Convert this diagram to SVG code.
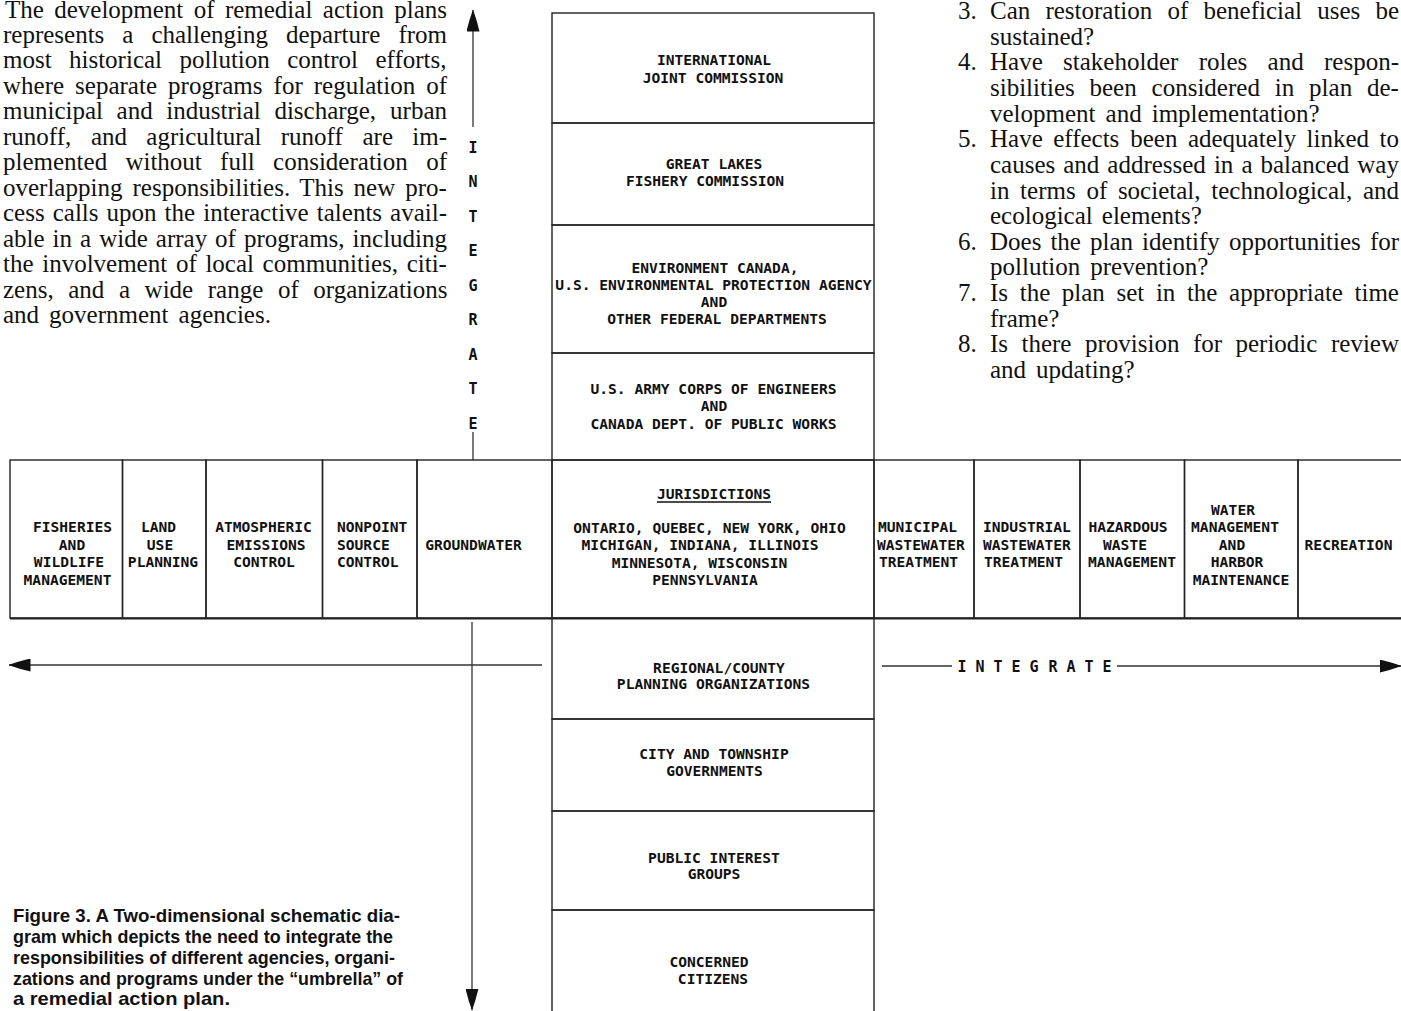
<svg xmlns="http://www.w3.org/2000/svg" width="1401" height="1011" viewBox="0 0 1401 1011">
<style>
.bg{fill:#fff}
.box{fill:none;stroke:#222;stroke-width:1.4}
.lbl{font-family:"DejaVu Sans Mono","Liberation Mono",monospace;font-weight:bold;font-size:14.6px;fill:#111;text-anchor:middle}
.lbll{font-family:"DejaVu Sans Mono","Liberation Mono",monospace;font-weight:bold;font-size:14.6px;fill:#111}
.body{font-family:"Liberation Serif","Times New Roman",serif;font-size:25px;fill:#111}
.cap{font-family:"Liberation Sans",Arial,sans-serif;font-weight:bold;font-size:19px;fill:#111}
.conn{stroke:#333;stroke-width:1.3;fill:none}
.ax{font-family:"DejaVu Sans Mono","Liberation Mono",monospace;font-weight:bold;font-size:15px;fill:#111;text-anchor:middle}
</style>
<defs>
<marker id="ah" markerUnits="userSpaceOnUse" markerWidth="22" markerHeight="13" viewBox="0 0 22 13" refX="21.5" refY="6.5" orient="auto">
<path d="M0,0 Q11,2.5 22,6.5 Q11,10.5 0,13 Z" fill="#111"/>
</marker>
</defs>
<rect class="bg" x="0" y="0" width="1401" height="1011"/>

<g id="text-left" class="body">
<text y="17.5"><tspan x="5">The</tspan> <tspan x="54.2">development</tspan> <tspan x="193.8">of</tspan> <tspan x="224.9">remedial</tspan> <tspan x="322.8">action</tspan> <tspan x="394.2">plans</tspan></text>
<text y="42.5"><tspan x="3">represents</tspan> <tspan x="122.3">a</tspan> <tspan x="151.4">challenging</tspan> <tspan x="286">departure</tspan> <tspan x="398.4">from</tspan></text>
<text y="68"><tspan x="3">most</tspan> <tspan x="69">historical</tspan> <tspan x="179.5">pollution</tspan> <tspan x="287.2">control</tspan> <tspan x="375.5">efforts,</tspan></text>
<text y="93.5"><tspan x="3">where</tspan> <tspan x="75.1">separate</tspan> <tspan x="168.1">programs</tspan> <tspan x="273.6">for</tspan> <tspan x="313.8">regulation</tspan> <tspan x="426.2">of</tspan></text>
<text y="119"><tspan x="3">municipal</tspan> <tspan x="116.6">and</tspan> <tspan x="166.3">industrial</tspan> <tspan x="274.4">discharge,</tspan> <tspan x="390.1">urban</tspan></text>
<text y="144.5"><tspan x="3">runoff,</tspan> <tspan x="91">and</tspan> <tspan x="146.3">agricultural</tspan> <tspan x="280.8">runoff</tspan> <tspan x="362.5">are</tspan> <tspan x="412.3">im-</tspan></text>
<text y="170"><tspan x="3">plemented</tspan> <tspan x="125.4">without</tspan> <tspan x="220.1">full</tspan> <tspan x="273.1">consideration</tspan> <tspan x="426.2">of</tspan></text>
<text y="195.5"><tspan x="3">overlapping</tspan> <tspan x="132.5">responsibilities.</tspan> <tspan x="299.2">This</tspan> <tspan x="353.6">new</tspan> <tspan x="405.3">pro-</tspan></text>
<text y="221"><tspan x="3">cess</tspan> <tspan x="52.7">calls</tspan> <tspan x="106.6">upon</tspan> <tspan x="164.6">the</tspan> <tspan x="203.2">interactive</tspan> <tspan x="316.8">talents</tspan> <tspan x="390.1">avail-</tspan></text>
<text y="246.5"><tspan x="3">able</tspan> <tspan x="52.6">in</tspan> <tspan x="80.1">a</tspan> <tspan x="99.2">wide</tspan> <tspan x="155.8">array</tspan> <tspan x="215.1">of</tspan> <tspan x="243.9">programs,</tspan> <tspan x="352.6">including</tspan></text>
<text y="272"><tspan x="3">the</tspan> <tspan x="42.2">involvement</tspan> <tspan x="175.9">of</tspan> <tspan x="205.4">local</tspan> <tspan x="262.6">communities,</tspan> <tspan x="406.7">citi-</tspan></text>
<text y="297.5"><tspan x="3">zens,</tspan> <tspan x="68.2">and</tspan> <tspan x="118.9">a</tspan> <tspan x="144.6">wide</tspan> <tspan x="207.8">range</tspan> <tspan x="277.9">of</tspan> <tspan x="313.3">organizations</tspan></text>
<text y="323"><tspan x="3">and</tspan> <tspan x="49.1">government</tspan> <tspan x="178.6">agencies.</tspan></text>
</g>

<g id="text-right" class="body">
<text x="958" y="19">3.</text>
<text y="19"><tspan x="990">Can</tspan> <tspan x="1045.4">restoration</tspan> <tspan x="1167.5">of</tspan> <tspan x="1203.5">beneficial</tspan> <tspan x="1317.2">uses</tspan> <tspan x="1375.4">be</tspan></text>
<text x="990" y="44.6">sustained?</text>
<text x="958" y="70.3">4.</text>
<text y="70.3"><tspan x="990">Have</tspan> <tspan x="1063.1">stakeholder</tspan> <tspan x="1198.7">roles</tspan> <tspan x="1267.6">and</tspan> <tspan x="1324">respon-</tspan></text>
<text y="95.9"><tspan x="990">sibilities</tspan> <tspan x="1089.5">been</tspan> <tspan x="1151.6">considered</tspan> <tspan x="1274.8">in</tspan> <tspan x="1309.1">plan</tspan> <tspan x="1367">de-</tspan></text>
<text y="121.6"><tspan x="990">velopment</tspan> <tspan x="1105.6">and</tspan> <tspan x="1151.7">implementation?</tspan></text>
<text x="958" y="147.2">5.</text>
<text y="147.2"><tspan x="990">Have</tspan> <tspan x="1053.2">effects</tspan> <tspan x="1130.2">been</tspan> <tspan x="1187.9">adequately</tspan> <tspan x="1306.6">linked</tspan> <tspan x="1379.5">to</tspan></text>
<text y="172.8"><tspan x="990">causes</tspan> <tspan x="1063.2">and</tspan> <tspan x="1107.3">addressed</tspan> <tspan x="1213.9">in</tspan> <tspan x="1241.4">a</tspan> <tspan x="1260.5">balanced</tspan> <tspan x="1357.3">way</tspan></text>
<text y="198.5"><tspan x="990">in</tspan> <tspan x="1020.1">terms</tspan> <tspan x="1086.4">of</tspan> <tspan x="1117.9">societal,</tspan> <tspan x="1211.3">technological,</tspan> <tspan x="1362.9">and</tspan></text>
<text y="224.1"><tspan x="990">ecological</tspan> <tspan x="1101.8">elements?</tspan></text>
<text x="958" y="249.8">6.</text>
<text y="249.8"><tspan x="990">Does</tspan> <tspan x="1050.4">the</tspan> <tspan x="1090">plan</tspan> <tspan x="1142.1">identify</tspan> <tspan x="1228.9">opportunities</tspan> <tspan x="1369.9">for</tspan></text>
<text y="275.4"><tspan x="990">pollution</tspan> <tspan x="1090.3">prevention?</tspan></text>
<text x="958" y="301">7.</text>
<text y="301"><tspan x="990">Is</tspan> <tspan x="1019.7">the</tspan> <tspan x="1061.8">plan</tspan> <tspan x="1116.5">set</tspan> <tspan x="1155.9">in</tspan> <tspan x="1186.9">the</tspan> <tspan x="1229.1">appropriate</tspan> <tspan x="1354.5">time</tspan></text>
<text x="990" y="326.7">frame?</text>
<text x="958" y="352.3">8.</text>
<text y="352.3"><tspan x="990">Is</tspan> <tspan x="1021.5">there</tspan> <tspan x="1085">provision</tspan> <tspan x="1192.9">for</tspan> <tspan x="1235.5">periodic</tspan> <tspan x="1331">review</tspan></text>
<text y="378"><tspan x="990">and</tspan> <tspan x="1036.1">updating?</tspan></text>
</g>

<g id="caption" class="cap">
<text x="13" y="922" textLength="387" lengthAdjust="spacingAndGlyphs">Figure 3.  A Two-dimensional schematic dia-</text>
<text x="13" y="943" textLength="380" lengthAdjust="spacingAndGlyphs">gram which depicts the need to integrate the</text>
<text x="13" y="964" textLength="382" lengthAdjust="spacingAndGlyphs">responsibilities of different agencies, organi-</text>
<text x="13" y="984.5" textLength="390" lengthAdjust="spacingAndGlyphs">zations and programs under the “umbrella” of</text>
<text x="13" y="1005" textLength="217" lengthAdjust="spacingAndGlyphs">a remedial action plan.</text>
</g>

<g id="connectors">
<line class="conn" x1="473" y1="127" x2="473" y2="10" marker-end="url(#ah)"/>
<line class="conn" x1="473" y1="432" x2="473" y2="460"/>
<line class="conn" x1="472" y1="622" x2="472" y2="1010" marker-end="url(#ah)"/>
<line class="conn" x1="542" y1="665" x2="9" y2="665" marker-end="url(#ah)"/>
<line class="conn" x1="882" y1="666" x2="952" y2="666"/>
<line class="conn" x1="1117" y1="666" x2="1401" y2="666" marker-end="url(#ah)"/>
<g class="ax">
<text x="473" y="152.5">I</text><text x="473" y="186.5">N</text><text x="473" y="221.5">T</text><text x="473" y="255.5">E</text><text x="473" y="290.5">G</text><text x="473" y="324.5">R</text><text x="473" y="359.5">A</text><text x="473" y="393.5">T</text><text x="473" y="428.5">E</text>
<text x="962 980 998 1016 1034 1053 1071 1089 1107" y="671.5">INTEGRATE</text>
</g>
</g>

<g id="n-ijc"><rect class="box" x="552" y="13" width="322" height="110"/>
<text class="lbl" x="714" y="64.5">INTERNATIONAL</text><text class="lbl" x="713" y="82.5">JOINT COMMISSION</text></g>
<g id="n-glfc"><rect class="box" x="552" y="123" width="322" height="102"/>
<text class="lbl" x="714" y="168.5">GREAT LAKES</text><text class="lbl" x="705" y="185.5">FISHERY COMMISSION</text></g>
<g id="n-federal"><rect class="box" x="552" y="225" width="322" height="128"/>
<text class="lbl" x="715" y="272.5">ENVIRONMENT CANADA,</text><text class="lbl" x="713.5" y="289.5">U.S. ENVIRONMENTAL PROTECTION AGENCY</text><text class="lbl" x="714" y="306.5">AND</text><text class="lbl" x="717" y="323.5">OTHER FEDERAL DEPARTMENTS</text></g>
<g id="n-corps"><rect class="box" x="552" y="353" width="322" height="107"/>
<text class="lbl" x="713.5" y="393.5">U.S. ARMY CORPS OF ENGINEERS</text><text class="lbl" x="714" y="410.5">AND</text><text class="lbl" x="713.5" y="428.5">CANADA DEPT. OF PUBLIC WORKS</text></g>
<g id="n-jurisdictions"><rect class="box" x="552" y="460" width="322" height="158"/>
<text class="lbl" x="714" y="498.5">JURISDICTIONS</text><line x1="657" y1="502" x2="771" y2="502" stroke="#111" stroke-width="1.3"/>
<text class="lbl" x="709.5" y="532.5">ONTARIO, QUEBEC, NEW YORK, OHIO</text><text class="lbl" x="700" y="549.5">MICHIGAN, INDIANA, ILLINOIS</text><text class="lbl" x="699.5" y="567.5">MINNESOTA, WISCONSIN</text><text class="lbl" x="705" y="584.5">PENNSYLVANIA</text></g>
<g id="n-regional"><rect class="box" x="552" y="618" width="322" height="101"/>
<text class="lbl" x="719" y="672.5">REGIONAL/COUNTY</text><text class="lbl" x="713.5" y="688.5">PLANNING ORGANIZATIONS</text></g>
<g id="n-city"><rect class="box" x="552" y="719" width="322" height="92"/>
<text class="lbl" x="714" y="758.5">CITY AND TOWNSHIP</text><text class="lbl" x="714.5" y="775.5">GOVERNMENTS</text></g>
<g id="n-public"><rect class="box" x="552" y="811" width="322" height="99"/>
<text class="lbl" x="714" y="862.5">PUBLIC INTEREST</text><text class="lbl" x="714" y="878.5">GROUPS</text></g>
<g id="n-citizens"><rect class="box" x="552" y="910" width="322" height="110"/>
<text class="lbl" x="709" y="966.5">CONCERNED</text><text class="lbl" x="713" y="983.5">CITIZENS</text></g>

<g id="n-fisheries"><rect class="box" x="10" y="460" width="112.5" height="158"/>
<text class="lbl" x="72.5" y="531.5">FISHERIES</text><text class="lbl" x="72" y="549.5">AND</text><text class="lbl" x="69" y="567">WILDLIFE</text><text class="lbl" x="67.5" y="584.5">MANAGEMENT</text></g>
<g id="n-landuse"><rect class="box" x="122.5" y="460" width="83.5" height="158"/>
<text class="lbl" x="158.5" y="531.5">LAND</text><text class="lbl" x="160" y="549.5">USE</text><text class="lbl" x="163" y="567">PLANNING</text></g>
<g id="n-atmospheric"><rect class="box" x="206" y="460" width="116.5" height="158"/>
<text class="lbl" x="263.5" y="531.5">ATMOSPHERIC</text><text class="lbl" x="266" y="549.5">EMISSIONS</text><text class="lbl" x="264" y="567">CONTROL</text></g>
<g id="n-nonpoint"><rect class="box" x="322.5" y="460" width="94.5" height="158"/>
<text class="lbll" x="337" y="531.5">NONPOINT</text><text class="lbll" x="337" y="549.5">SOURCE</text><text class="lbll" x="337" y="567">CONTROL</text></g>
<g id="n-groundwater"><rect class="box" x="417" y="460" width="135" height="158"/>
<text class="lbl" x="473.5" y="549.5">GROUNDWATER</text></g>
<g id="n-municipal"><rect class="box" x="874" y="460" width="100" height="158"/>
<text class="lbll" x="878" y="531.5">MUNICIPAL</text><text class="lbll" x="877" y="549.5">WASTEWATER</text><text class="lbll" x="879" y="567">TREATMENT</text></g>
<g id="n-industrial"><rect class="box" x="974" y="460" width="106" height="158"/>
<text class="lbll" x="983" y="531.5">INDUSTRIAL</text><text class="lbll" x="983" y="549.5">WASTEWATER</text><text class="lbll" x="984" y="567">TREATMENT</text></g>
<g id="n-hazardous"><rect class="box" x="1080" y="460" width="104.5" height="158"/>
<text class="lbl" x="1128" y="531.5">HAZARDOUS</text><text class="lbl" x="1125" y="549.5">WASTE</text><text class="lbl" x="1132" y="567">MANAGEMENT</text></g>
<g id="n-water"><rect class="box" x="1184.5" y="460" width="113.5" height="158"/>
<text class="lbl" x="1233" y="514.5">WATER</text><text class="lbl" x="1235" y="531.5">MANAGEMENT</text><text class="lbl" x="1232" y="549.5">AND</text><text class="lbl" x="1237" y="567">HARBOR</text><text class="lbl" x="1241" y="584.5">MAINTENANCE</text></g>
<g id="n-recreation"><rect class="box" x="1298" y="460" width="120" height="158"/>
<text class="lbl" x="1348.5" y="549.5">RECREATION</text></g>
<line x1="10" y1="618.5" x2="1401" y2="618.5" stroke="#222" stroke-width="2"/>
</svg>
